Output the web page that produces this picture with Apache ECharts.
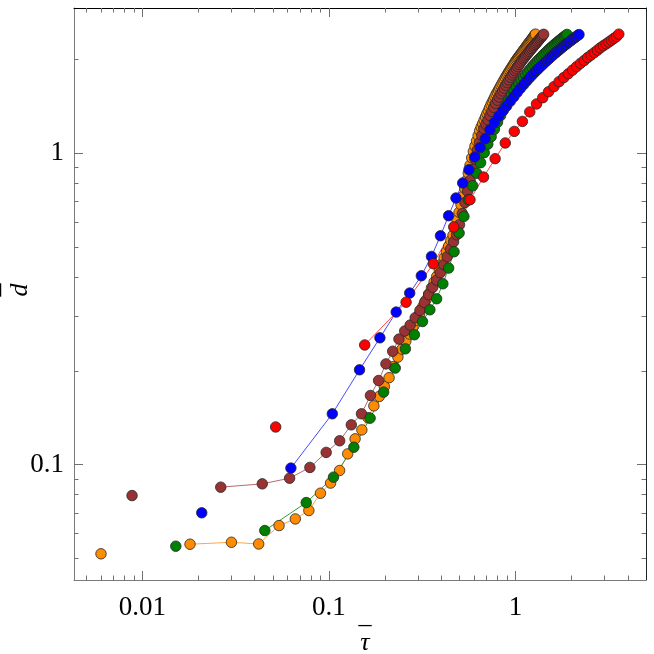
<!DOCTYPE html>
<html>
<head>
<meta charset="utf-8">
<script src="https://cdn.jsdelivr.net/npm/echarts@6/dist/echarts.min.js"></script>
<style>
  html, body { margin: 0; padding: 0; background: #fff; }
  #chart { width: 654px; height: 654px; }
</style>
</head>
<body>
<div id="chart"></div>
<script>
/* ============================================================
   d̄ vs τ̄ (log-log), five runs
   ============================================================ */

/* ----------------------- DATA ----------------------- */
const orangeX = [0.006, 0.018, 0.030, 0.042, 0.054, 0.066, 0.078, 0.090, 0.102, 0.114, 0.126, 0.138, 0.150, 0.162, 0.174, 0.186, 0.198, 0.210, 0.222, 0.234,
  0.246, 0.258, 0.270, 0.282, 0.294, 0.306, 0.318, 0.330, 0.342, 0.354, 0.366, 0.378, 0.390, 0.402, 0.414, 0.426, 0.438, 0.450, 0.462, 0.474,
  0.486, 0.498, 0.510, 0.522, 0.534, 0.546, 0.558, 0.570, 0.582, 0.594, 0.606, 0.618, 0.630, 0.642, 0.654, 0.666, 0.678, 0.690, 0.702, 0.714,
  0.726, 0.738, 0.750, 0.762, 0.774, 0.786, 0.798, 0.810, 0.822, 0.834, 0.846, 0.858, 0.870, 0.882, 0.894, 0.906, 0.918, 0.930, 0.942, 0.954,
  0.966, 0.978, 0.990, 1.002, 1.014, 1.026, 1.038, 1.050, 1.062, 1.074, 1.086, 1.098, 1.110, 1.122, 1.134, 1.146, 1.158, 1.170, 1.182, 1.194,
  1.206, 1.218, 1.230, 1.242, 1.254, 1.266, 1.278];
const orangeY = [0.0517, 0.0555, 0.0563, 0.0556, 0.0637, 0.0669, 0.0712, 0.0809, 0.0872, 0.0957, 0.1082, 0.1209, 0.1292, 0.1413, 0.1543, 0.1654, 0.178, 0.190, 0.2064, 0.2213,
  0.2347, 0.2486, 0.2625, 0.2764, 0.2906, 0.3047, 0.3207, 0.3365, 0.3525, 0.3688, 0.3852, 0.4015, 0.4207, 0.4406, 0.4610, 0.4813, 0.5024, 0.5236, 0.5445, 0.5731,
  0.6080, 0.6452, 0.6823, 0.7250, 0.7709, 0.8166, 0.8620, 0.9132, 0.9645, 1.0119, 1.0525, 1.0937, 1.1373, 1.1791, 1.2118, 1.2426, 1.2742, 1.3047, 1.3360, 1.3659,
  1.3977, 1.4289, 1.4568, 1.4849, 1.5139, 1.5431, 1.5672, 1.5930, 1.6181, 1.6445, 1.6690, 1.6954, 1.7206, 1.7462, 1.7709, 1.7934, 1.8175, 1.8390, 1.8624, 1.8845,
  1.9067, 1.9296, 1.9524, 1.9759, 1.9955, 2.0149, 2.0324, 2.0535, 2.0716, 2.0902, 2.1086, 2.1290, 2.1478, 2.1671, 2.1846, 2.2043, 2.2222, 2.2422, 2.2603, 2.2786,
  2.2960, 2.3146, 2.3333, 2.3523, 2.3718, 2.3910, 2.4071];

const brownX = [0.0088, 0.0263, 0.0439, 0.0615, 0.0790, 0.0966, 0.1141, 0.1317, 0.1493, 0.1668, 0.1844, 0.2019, 0.2195, 0.2371, 0.2546, 0.2722, 0.2897, 0.3073, 0.3249, 0.3424,
  0.3600, 0.3775, 0.3951, 0.4127, 0.4302, 0.4478, 0.4653, 0.4829, 0.5005, 0.5180, 0.5356, 0.5531, 0.5707, 0.5883, 0.6058, 0.6234, 0.6409, 0.6585, 0.6761, 0.6936,
  0.7112, 0.7287, 0.7463, 0.7639, 0.7814, 0.7990, 0.8165, 0.8341, 0.8517, 0.8692, 0.8868, 0.9043, 0.9219, 0.9395, 0.9570, 0.9746, 0.9921, 1.0097, 1.0273, 1.0448,
  1.0624, 1.0799, 1.0975, 1.1151, 1.1326, 1.1502, 1.1677, 1.1853, 1.2029, 1.2204, 1.2380, 1.2555, 1.2731, 1.2907, 1.3082, 1.3258, 1.3433, 1.3609, 1.3785, 1.3960,
  1.4136];
const brownY = [0.0795, 0.0846, 0.0867, 0.0904, 0.0979, 0.1094, 0.1192, 0.1341, 0.1455, 0.1666, 0.1861, 0.2104, 0.2310, 0.2527, 0.2683, 0.2803, 0.2960, 0.3125, 0.3311, 0.3507,
  0.3704, 0.3907, 0.4127, 0.4383, 0.4648, 0.4916, 0.5186, 0.5462, 0.5885, 0.6394, 0.6934, 0.7534, 0.8166, 0.8845, 0.9552, 1.0217, 1.0807, 1.1397, 1.1960, 1.2363,
  1.2771, 1.3184, 1.3600, 1.4019, 1.4429, 1.4775, 1.5115, 1.5489, 1.5824, 1.6144, 1.6482, 1.6815, 1.7154, 1.7489, 1.7790, 1.8079, 1.8377, 1.8650, 1.8927, 1.9226,
  1.9498, 1.9775, 2.0022, 2.0250, 2.0489, 2.0732, 2.0948, 2.1181, 2.1421, 2.1644, 2.1870, 2.2093, 2.2308, 2.2525, 2.2743, 2.2964, 2.3182, 2.3391, 2.3618, 2.3826,
  2.4041];

const greenX = [0.0151, 0.0453, 0.0755, 0.1057, 0.1359, 0.1661, 0.1963, 0.2265, 0.2567, 0.2869, 0.3171, 0.3473, 0.3775, 0.4077, 0.4379, 0.4681, 0.4983, 0.5285, 0.5587, 0.5889,
  0.6191, 0.6493, 0.6795, 0.7097, 0.7399, 0.7701, 0.8003, 0.8305, 0.8607, 0.8909, 0.9211, 0.9513, 0.9815, 1.0117, 1.0419, 1.0721, 1.1023, 1.1325, 1.1627, 1.1929,
  1.2231, 1.2533, 1.2835, 1.3137, 1.3439, 1.3741, 1.4043, 1.4345, 1.4647, 1.4949, 1.5251, 1.5553, 1.5855, 1.6157, 1.6459, 1.6761, 1.7063, 1.7365, 1.7667, 1.7969,
  1.8271, 1.8573, 1.8875];
const greenY = [0.0547, 0.0614, 0.0755, 0.0911, 0.1137, 0.1409, 0.1708, 0.2040, 0.2352, 0.2610, 0.2878, 0.3139, 0.3405, 0.3804, 0.4272, 0.4820, 0.5535, 0.6258, 0.7079, 0.7852,
  0.8612, 0.9308, 1.0023, 1.0673, 1.1280, 1.1923, 1.2557, 1.3179, 1.3745, 1.4295, 1.4834, 1.5334, 1.5818, 1.6269, 1.6694, 1.7094, 1.7478, 1.7842, 1.8202, 1.8541,
  1.8877, 1.9185, 1.9498, 1.9790, 2.0070, 2.0340, 2.0613, 2.0872, 2.1123, 2.1373, 2.1611, 2.1836, 2.2063, 2.2278, 2.2494, 2.2692, 2.2896, 2.3098, 2.3290, 2.3479,
  2.3669, 2.3844, 2.4021];

const blueX = [0.0208, 0.0625, 0.1042, 0.1458, 0.1875, 0.2292, 0.2708, 0.3125, 0.3542, 0.3958, 0.4375, 0.4792, 0.5208, 0.5625, 0.6042, 0.6458, 0.6875, 0.7292, 0.7708, 0.8125,
  0.8542, 0.8958, 0.9375, 0.9792, 1.0208, 1.0625, 1.1042, 1.1458, 1.1875, 1.2292, 1.2708, 1.3125, 1.3542, 1.3958, 1.4375, 1.4792, 1.5208, 1.5625, 1.6042, 1.6458,
  1.6875, 1.7292, 1.7708, 1.8125, 1.8542, 1.8958, 1.9375, 1.9792, 2.0208, 2.0625, 2.1042, 2.1458, 2.1875];
const blueY = [0.070, 0.0974, 0.1455, 0.2014, 0.2551, 0.3086, 0.3552, 0.4036, 0.4656, 0.5425, 0.629, 0.717, 0.801, 0.884, 0.971, 1.042, 1.111, 1.188, 1.254, 1.313,
  1.365, 1.415, 1.467, 1.516, 1.566, 1.614, 1.658, 1.702, 1.743, 1.781, 1.819, 1.854, 1.889, 1.921, 1.954, 1.985, 2.015, 2.045, 2.074, 2.101,
  2.128, 2.153, 2.179, 2.203, 2.228, 2.251, 2.274, 2.296, 2.318, 2.339, 2.360, 2.381, 2.400];

const redX = [0.0518, 0.1554, 0.259, 0.3626, 0.4662, 0.5698, 0.6734, 0.777, 0.8806, 0.9842, 1.0878, 1.1914, 1.295, 1.3986, 1.5022, 1.6058, 1.7094, 1.813, 1.9166, 2.0202,
  2.1238, 2.2274, 2.331, 2.4346, 2.5382, 2.6418, 2.7454, 2.849, 2.9526, 3.0562, 3.1598, 3.2634, 3.367, 3.4706, 3.5742];
const redY = [0.132, 0.242, 0.332, 0.441, 0.579, 0.708, 0.837, 0.959, 1.077, 1.173, 1.263, 1.355, 1.437, 1.505, 1.573, 1.633, 1.694, 1.746, 1.796, 1.845,
  1.893, 1.939, 1.981, 2.025, 2.063, 2.100, 2.138, 2.176, 2.210, 2.239, 2.270, 2.301, 2.333, 2.363, 2.407];

const xMajorTicks = [0.01, 0.1, 1];
const xTickLabels = ["0.01", "0.1", "1"];
const xMinorTicks = [0.005, 0.006, 0.007, 0.008, 0.009, 0.02, 0.03, 0.04, 0.05, 0.06, 0.07, 0.08, 0.09,
  0.2, 0.3, 0.4, 0.5, 0.6, 0.7, 0.8, 0.9, 2, 3, 4];
const yMajorTicks = [0.1, 1];
const yTickLabels = ["0.1", "1"];
const yMinorTicks = [0.05, 0.06, 0.07, 0.08, 0.09, 0.2, 0.3, 0.4, 0.5, 0.6, 0.7, 0.8, 0.9, 2];

/* ----------------------- HELPERS ----------------------- */
const FONT = "'Liberation Serif', 'Times New Roman', serif";
const X_MIN = 0.0043, X_MAX = 5;
const Y_MIN = 0.0426, Y_MAX = 2.92;
const TICK_COLOR = "#707070";

const pairs = (xs, ys) => xs.slice(0, Math.min(xs.length, ys.length)).map((x, i) => [x, ys[i]]);

// label text for a tick value, looked up in the label arrays
const labelFor = (ticks, labels) => (v) => {
  const i = ticks.findIndex((t) => Math.abs(Math.log10(t) - Math.log10(v)) < 1e-6);
  return i >= 0 ? labels[i] : "";
};

function frameAxis(dim, position, ticks, tickLen, lineColor, extra) {
  return Object.assign({
    type: "log",
    logBase: 10,
    position,
    min: dim === "x" ? X_MIN : Y_MIN,
    max: dim === "x" ? X_MAX : Y_MAX,
    splitLine: { show: false },
    axisLine: { show: !!lineColor, onZero: false, lineStyle: { color: lineColor || "#000", width: 1 } },
    axisTick: { show: true, inside: true, length: tickLen, customValues: ticks,
      lineStyle: { color: TICK_COLOR, width: 1 } },
    axisLabel: { show: false },
  }, extra || {});
}

const RUNS = [
  { name: "orange", x: orangeX, y: orangeY, color: "#ff8c00", line: "#ffa54a" },
  { name: "brown",  x: brownX,  y: brownY,  color: "#993333", line: "#b86a6a" },
  { name: "green",  x: greenX,  y: greenY,  color: "#008000", line: "#3a9a3a" },
  { name: "blue",   x: blueX,   y: blueY,   color: "#0000ff", line: "#4a4aff" },
  { name: "red",    x: redX,    y: redY,    color: "#ff0000", line: "#ff4a4a" },
];

/* ----------------------- CHART ----------------------- */
const chart = echarts.init(document.getElementById("chart"), null, { renderer: "canvas" });

const nameStyle = (lineHeight, padding) =>
  ({ fontFamily: FONT, fontStyle: "italic", fontSize: 26, lineHeight, padding, color: "#000" });

chart.setOption({
  animation: false,
  backgroundColor: "#fff",
  grid: { left: 74, right: 8, top: 8, bottom: 74, containLabel: false, outerBoundsMode: "none" },
  xAxis: [
    frameAxis("x", "bottom", xMajorTicks, 9, "#7a7a7a", {
      axisLabel: { show: true, customValues: xMajorTicks, formatter: labelFor(xMajorTicks, xTickLabels),
        margin: 14, fontFamily: FONT, fontSize: 27, color: "#000" },
      name: "_\nτ",
      nameLocation: "middle",
      nameGap: 23,
      nameMoveOverlap: false,
      nameTextStyle: nameStyle(27, [0, 0, 0, 10]),
    }),
    frameAxis("x", "bottom", xMinorTicks, 4.5, null),
    frameAxis("x", "top", xMajorTicks, 9, "#000"),
    frameAxis("x", "top", xMinorTicks, 4.5, null),
  ],
  yAxis: [
    frameAxis("y", "left", yMajorTicks, 9, "#7a7a7a", {
      axisLabel: { show: true, customValues: yMajorTicks, formatter: labelFor(yMajorTicks, yTickLabels),
        margin: 10, fontFamily: FONT, fontSize: 27, color: "#000" },
      name: "_\nd",
      nameLocation: "middle",
      nameGap: 40,
      nameRotate: 90,
      nameMoveOverlap: false,
      nameTextStyle: nameStyle(28.5, [0, 0, 0, 8]),
    }),
    frameAxis("y", "left", yMinorTicks, 4.5, null),
    frameAxis("y", "right", yMajorTicks, 9, "#222"),
    frameAxis("y", "right", yMinorTicks, 4.5, null),
  ],
  series: [
    // thin connecting lines (the first point of each run stands alone)
    ...RUNS.map((r) => ({
      name: r.name + "-line",
      type: "line",
      xAxisIndex: 0,
      yAxisIndex: 0,
      data: pairs(r.x, r.y).slice(1),
      symbol: "none",
      lineStyle: { color: r.line, width: 1 },
      z: 2,
      silent: true,
    })),
    // markers
    ...RUNS.map((r) => ({
      name: r.name,
      type: "scatter",
      xAxisIndex: 0,
      yAxisIndex: 0,
      data: pairs(r.x, r.y),
      symbol: "circle",
      symbolSize: 10.5,
      itemStyle: { color: r.color, borderColor: "#262626", borderWidth: 0.8, opacity: 1 },
      z: 3,
    })),
  ],
});
</script>
</body>
</html>
